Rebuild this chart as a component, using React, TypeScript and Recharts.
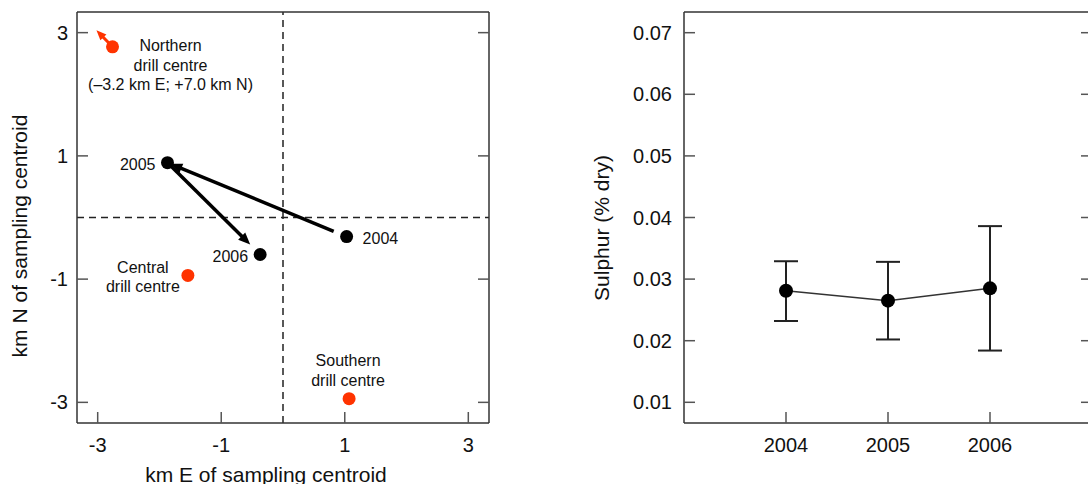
import React from 'react'
import { ScatterChart, ComposedChart, Scatter, Line, XAxis, YAxis, ReferenceLine, ErrorBar, Label } from 'recharts'

// left panel: sampling centroid by year, km from overall centroid
const years = [2004, 2005, 2006]
const yearEast = [1.03, -1.87, -0.37]
const yearNorth = [-0.31, 0.89, -0.6]

// drill centres (northern one is off the chart, shown at the edge with an arrow)
const drillNames = ['Northern', 'Central', 'Southern']
const drillEast = [-2.76, -1.54, 1.07]
const drillNorth = [2.77, -0.94, -2.94]
const drillLabels = [
  ['Northern', 'drill centre', '(\u20133.2 km E; +7.0 km N)'],
  ['Central', 'drill centre'],
  ['Southern', 'drill centre'],
]
const northArrowTip = { x: -3.02, y: 3.04 }

const kmTicks = [-3, -1, 1, 3]
const kmDomain = [-3.335, 3.335]

// right panel: sulphur by year, mean with lower / upper bounds
const sulphurYears = [2004, 2005, 2006]
const sulphurMean = [0.0281, 0.0265, 0.0285]
const sulphurLow = [0.0232, 0.0202, 0.0184]
const sulphurHigh = [0.0329, 0.0328, 0.0386]
const sulphurTicks = [0.01, 0.02, 0.03, 0.04, 0.05, 0.06, 0.07]
const sulphurDomain = [0.00664, 0.07336]
const yearDomain = [2003, 2007]

const RED = '#ff3300'
const FONT = '"Liberation Sans", Arial, sans-serif'
const TICK_LEN = 11
const TICK_COLOR = '#555'
const AXIS = { stroke: '#333', strokeWidth: 1.5 }

const yearPoints = years.map((year, i) => ({ year, e: yearEast[i], n: yearNorth[i] }))
const drillPoints = drillNames.map((name, i) => ({ name, e: drillEast[i], n: drillNorth[i], lines: drillLabels[i] }))
const sulphurData = sulphurYears.map((year, i) => ({
  year,
  s: sulphurMean[i],
  err: [sulphurMean[i] - sulphurLow[i], sulphurHigh[i] - sulphurMean[i]],
}))

const yearLabelPos: Record<number, { dx: number; anchor: 'start' | 'end' }> = {
  2004: { dx: 16, anchor: 'start' },
  2005: { dx: -12, anchor: 'end' },
  2006: { dx: -12, anchor: 'end' },
}
const drillLabelPos: Record<string, { dx: number; dy: number }> = {
  Northern: { dx: 58, dy: -1 },
  Central: { dx: -45, dy: -8.5 },
  Southern: { dx: -1, dy: -38 },
}

// ticks point inwards; labels drawn by hand next to them
const bottomTick = (fmt: (v: number) => string) => (p: any) => (
  <g>
    <line x1={p.x} x2={p.x} y1={p.y} y2={p.y - TICK_LEN} stroke={TICK_COLOR} strokeWidth={1.5} />
    <text x={p.x} y={p.y + 29} textAnchor="middle" fontSize={20} fill="#111" fontFamily={FONT}>{fmt(p.payload.value)}</text>
  </g>
)
const leftTick = (fmt: (v: number) => string, gap: number) => (p: any) => (
  <g>
    <line x1={p.x} x2={p.x + TICK_LEN} y1={p.y} y2={p.y} stroke={TICK_COLOR} strokeWidth={1.5} />
    <text x={p.x - gap} y={p.y + 7} textAnchor="end" fontSize={20} fill="#111" fontFamily={FONT}>{fmt(p.payload.value)}</text>
  </g>
)
const topTick = (p: any) => <line x1={p.x} x2={p.x} y1={p.y} y2={p.y + TICK_LEN} stroke={TICK_COLOR} strokeWidth={1.5} />
const rightTick = (p: any) => <line x1={p.x} x2={p.x - TICK_LEN} y1={p.y} y2={p.y} stroke={TICK_COLOR} strokeWidth={1.5} />

function arrow(color: string, width: number, head: number, trimStart: number, trimEnd: number) {
  return (p: any) => {
    const { x1, y1, x2, y2 } = p
    const len = Math.hypot(x2 - x1, y2 - y1) || 1
    const ux = (x2 - x1) / len
    const uy = (y2 - y1) / len
    const sx = x1 + ux * trimStart
    const sy = y1 + uy * trimStart
    const tx = x2 - ux * trimEnd
    const ty = y2 - uy * trimEnd
    const bx = tx - ux * head
    const by = ty - uy * head
    const hw = head * 0.42
    return (
      <g>
        <line x1={sx} y1={sy} x2={bx + ux * 2} y2={by + uy * 2} stroke={color} strokeWidth={width} />
        <polygon points={`${tx},${ty} ${bx - uy * hw},${by + ux * hw} ${bx + uy * hw},${by - ux * hw}`} fill={color} />
      </g>
    )
  }
}

const YearDot = (p: any) => {
  const pos = yearLabelPos[p.payload.year]
  return (
    <g>
      <circle cx={p.cx} cy={p.cy} r={6.5} fill="#000" />
      <text x={p.cx + pos.dx} y={p.cy + 2} dy="0.35em" textAnchor={pos.anchor} fontSize={16} fill="#111" fontFamily={FONT}>
        {p.payload.year}
      </text>
    </g>
  )
}

const DrillDot = (p: any) => {
  const pos = drillLabelPos[p.payload.name]
  const lx = p.cx + pos.dx
  return (
    <g>
      <circle cx={p.cx} cy={p.cy} r={6.5} fill={RED} />
      <text x={lx} y={p.cy + pos.dy} textAnchor="middle" fontSize={16} fill="#111" fontFamily={FONT}>
        {p.payload.lines.map((l: string, i: number) => (
          <tspan key={i} x={lx} dy={i === 0 ? '0.35em' : 19.5}>{l}</tspan>
        ))}
      </text>
    </g>
  )
}

const fmtInt = (v: number) => String(v)
const fmt2 = (v: number) => v.toFixed(2)

export default function App() {
  return (
    <div style={{ position: 'fixed', left: 0, top: 0, width: 1088, height: 484, overflow: 'hidden', background: '#fff', fontFamily: FONT }}>
      <div style={{ position: 'absolute', left: 0, top: 0 }}>
        <ScatterChart width={544} height={484} margin={{ top: 11, right: 54, bottom: 60, left: 76 }}>
          <XAxis type="number" dataKey="e" domain={kmDomain} ticks={kmTicks} allowDataOverflow height={1} tickSize={0} tickMargin={0}
            interval={0} tickLine={false} axisLine={AXIS} tick={bottomTick(fmtInt)}>
            <Label content={({ viewBox }: any) => (
              <text x={viewBox.x + viewBox.width / 2 - 17} y={viewBox.y + 59} textAnchor="middle" fontSize={21} fill="#111" fontFamily={FONT}>
                km E of sampling centroid
              </text>
            )} />
          </XAxis>
          <YAxis type="number" dataKey="n" domain={kmDomain} ticks={kmTicks} allowDataOverflow width={1} tickSize={0} tickMargin={0}
            interval={0} tickLine={false} axisLine={AXIS} tick={leftTick(fmtInt, 9)}>
            <Label content={({ viewBox }: any) => (
              <text transform={`translate(${viewBox.x - 56},${viewBox.y + viewBox.height / 2 + 18.5}) rotate(-90)`} dy="0.35em"
                textAnchor="middle" fontSize={21} fill="#111" fontFamily={FONT}>
                km N of sampling centroid
              </text>
            )} />
          </YAxis>
          <XAxis xAxisId="top" orientation="top" type="number" domain={kmDomain} ticks={kmTicks} allowDataOverflow height={1}
            tickSize={0} tickMargin={0} interval={0} tickLine={false} axisLine={AXIS} tick={topTick} />
          <YAxis yAxisId="right" orientation="right" type="number" domain={kmDomain} ticks={kmTicks} allowDataOverflow width={1}
            tickSize={0} tickMargin={0} interval={0} tickLine={false} axisLine={AXIS} tick={rightTick} />
          <ReferenceLine x={0} stroke="#222" strokeWidth={1.5} strokeDasharray="7 5" />
          <ReferenceLine y={0} stroke="#222" strokeWidth={1.5} strokeDasharray="7 5" />
          <ReferenceLine segment={[{ x: yearEast[0], y: yearNorth[0] }, { x: yearEast[1], y: yearNorth[1] }]} shape={arrow('#000', 3.5, 12, 14, 3)} />
          <ReferenceLine segment={[{ x: yearEast[1], y: yearNorth[1] }, { x: yearEast[2], y: yearNorth[2] }]} shape={arrow('#000', 3.5, 12, 3, 14)} />
          <ReferenceLine segment={[{ x: drillEast[0], y: drillNorth[0] }, northArrowTip]} shape={arrow(RED, 3, 10, 0, 0)} />
          <Scatter data={drillPoints} shape={DrillDot} isAnimationActive={false} />
          <Scatter data={yearPoints} shape={YearDot} isAnimationActive={false} />
        </ScatterChart>
      </div>
      <div style={{ position: 'absolute', left: 560, top: 0 }}>
        <ComposedChart width={560} height={484} data={sulphurData} margin={{ top: 11, right: 27, bottom: 60, left: 123 }}>
          <XAxis type="number" dataKey="year" domain={yearDomain} ticks={sulphurYears} allowDataOverflow height={1} tickSize={0}
            tickMargin={0} interval={0} tickLine={false} axisLine={AXIS} tick={bottomTick(fmtInt)} />
          <YAxis type="number" domain={sulphurDomain} ticks={sulphurTicks} allowDataOverflow width={1} tickSize={0} tickMargin={0}
            interval={0} tickLine={false} axisLine={AXIS} tick={leftTick(fmt2, 12)}>
            <Label content={({ viewBox }: any) => (
              <text transform={`translate(${viewBox.x - 81},${viewBox.y + viewBox.height / 2 + 10.5}) rotate(-90)`} dy="0.35em"
                textAnchor="middle" fontSize={21} fill="#111" fontFamily={FONT}>
                Sulphur (% dry)
              </text>
            )} />
          </YAxis>
          <XAxis xAxisId="top" orientation="top" type="number" domain={yearDomain} ticks={sulphurYears} allowDataOverflow height={1}
            tickSize={0} tickMargin={0} interval={0} tickLine={false} axisLine={AXIS} tick={topTick} />
          <YAxis yAxisId="right" orientation="right" type="number" domain={sulphurDomain} ticks={sulphurTicks} allowDataOverflow width={1}
            tickSize={0} tickMargin={0} interval={0} tickLine={false} axisLine={AXIS} tick={rightTick} />
          <Line type="linear" dataKey="s" stroke="#333" strokeWidth={1.5} dot={{ r: 7, fill: '#000', stroke: '#000', strokeWidth: 0 }}
            activeDot={false} isAnimationActive={false}>
            <ErrorBar dataKey="err" direction="y" width={12} stroke="#222" strokeWidth={2} isAnimationActive={false} />
          </Line>
        </ComposedChart>
      </div>
    </div>
  )
}
